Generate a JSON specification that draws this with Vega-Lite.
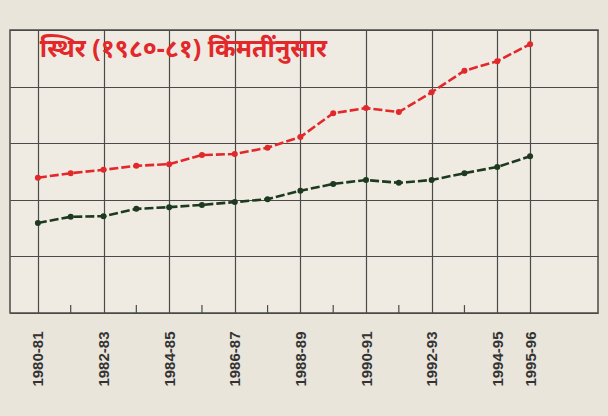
{
  "$schema": "https://vega.github.io/schema/vega-lite/v6.json",
  "width": 588,
  "height": 283,
  "autosize": {"type": "none"},
  "padding": {"left": 10, "top": 30, "right": 10, "bottom": 103},
  "background": "#e9e5db",
  "config": {
    "view": {"stroke": "#4a4a48", "strokeWidth": 1.5, "fill": "#efebe2"},
    "font": "Liberation Sans"
  },
  "datasets": {
    "series": [
      {"year": 1980, "series": "red", "value": 2.39},
      {"year": 1981, "series": "red", "value": 2.47},
      {"year": 1982, "series": "red", "value": 2.53},
      {"year": 1983, "series": "red", "value": 2.60},
      {"year": 1984, "series": "red", "value": 2.63},
      {"year": 1985, "series": "red", "value": 2.79},
      {"year": 1986, "series": "red", "value": 2.81},
      {"year": 1987, "series": "red", "value": 2.92},
      {"year": 1988, "series": "red", "value": 3.11},
      {"year": 1989, "series": "red", "value": 3.53},
      {"year": 1990, "series": "red", "value": 3.62},
      {"year": 1991, "series": "red", "value": 3.55},
      {"year": 1992, "series": "red", "value": 3.90},
      {"year": 1993, "series": "red", "value": 4.28},
      {"year": 1994, "series": "red", "value": 4.45},
      {"year": 1995, "series": "red", "value": 4.75},
      {"year": 1980, "series": "green", "value": 1.59},
      {"year": 1981, "series": "green", "value": 1.70},
      {"year": 1982, "series": "green", "value": 1.71},
      {"year": 1983, "series": "green", "value": 1.84},
      {"year": 1984, "series": "green", "value": 1.87},
      {"year": 1985, "series": "green", "value": 1.91},
      {"year": 1986, "series": "green", "value": 1.96},
      {"year": 1987, "series": "green", "value": 2.01},
      {"year": 1988, "series": "green", "value": 2.16},
      {"year": 1989, "series": "green", "value": 2.28},
      {"year": 1990, "series": "green", "value": 2.35},
      {"year": 1991, "series": "green", "value": 2.30},
      {"year": 1992, "series": "green", "value": 2.35},
      {"year": 1993, "series": "green", "value": 2.47},
      {"year": 1994, "series": "green", "value": 2.58},
      {"year": 1995, "series": "green", "value": 2.77}
    ],
    "minor": [
      {"year": 1981}, {"year": 1983}, {"year": 1985}, {"year": 1987},
      {"year": 1989}, {"year": 1991}, {"year": 1993}
    ],
    "label": [
      {"year": 1980.06, "value": 4.66, "text": "स्थिर (१९८०-८१) किंमतींनुसार"}
    ]
  },
  "layer": [
    {
      "data": {"name": "minor"},
      "mark": {"type": "rule", "color": "#4a4a48", "strokeWidth": 1.2},
      "encoding": {
        "x": {
          "field": "year", "type": "quantitative",
          "scale": {"domain": [1979.15, 1997.07], "nice": false, "zero": false},
          "axis": {
            "values": [1980, 1982, 1984, 1986, 1988, 1990, 1992, 1994, 1995],
            "labelExpr": "datum.value + '-' + slice(toString(datum.value + 1), 2)",
            "labelAngle": -90,
            "labelFontSize": 15,
            "labelFontWeight": "bold",
            "labelColor": "#333333",
            "labelPadding": 18,
            "ticks": false,
            "domain": false,
            "grid": true,
            "gridColor": "#4a4a48",
            "gridWidth": 1.2,
            "title": null
          }
        },
        "y": {"datum": 0, "type": "quantitative"},
        "y2": {"datum": 0.14}
      }
    },
    {
      "data": {"name": "series"},
      "mark": {"type": "line", "strokeWidth": 2.6, "strokeDash": [9, 3]},
      "encoding": {
        "x": {"field": "year", "type": "quantitative"},
        "y": {
          "field": "value", "type": "quantitative",
          "scale": {"domain": [0, 5], "nice": false},
          "axis": {
            "values": [0, 1, 2, 3, 4, 5],
            "labels": false, "ticks": false, "domain": false,
            "grid": true, "gridColor": "#4a4a48", "gridWidth": 1.2, "title": null
          }
        },
        "color": {
          "field": "series", "type": "nominal",
          "scale": {"domain": ["red", "green"], "range": ["#e2282b", "#1d3a21"]},
          "legend": null
        }
      }
    },
    {
      "data": {"name": "series"},
      "mark": {"type": "circle", "size": 36, "opacity": 1},
      "encoding": {
        "x": {"field": "year", "type": "quantitative"},
        "y": {"field": "value", "type": "quantitative"},
        "color": {"field": "series", "type": "nominal", "legend": null}
      }
    },
    {
      "data": {"name": "label"},
      "mark": {
        "type": "text", "align": "left", "baseline": "middle",
        "fontSize": 25, "fontWeight": "bold", "color": "#e2282b",
        "font": "Noto Sans"
      },
      "encoding": {
        "x": {"field": "year", "type": "quantitative"},
        "y": {"field": "value", "type": "quantitative"},
        "text": {"field": "text"}
      }
    }
  ]
}
